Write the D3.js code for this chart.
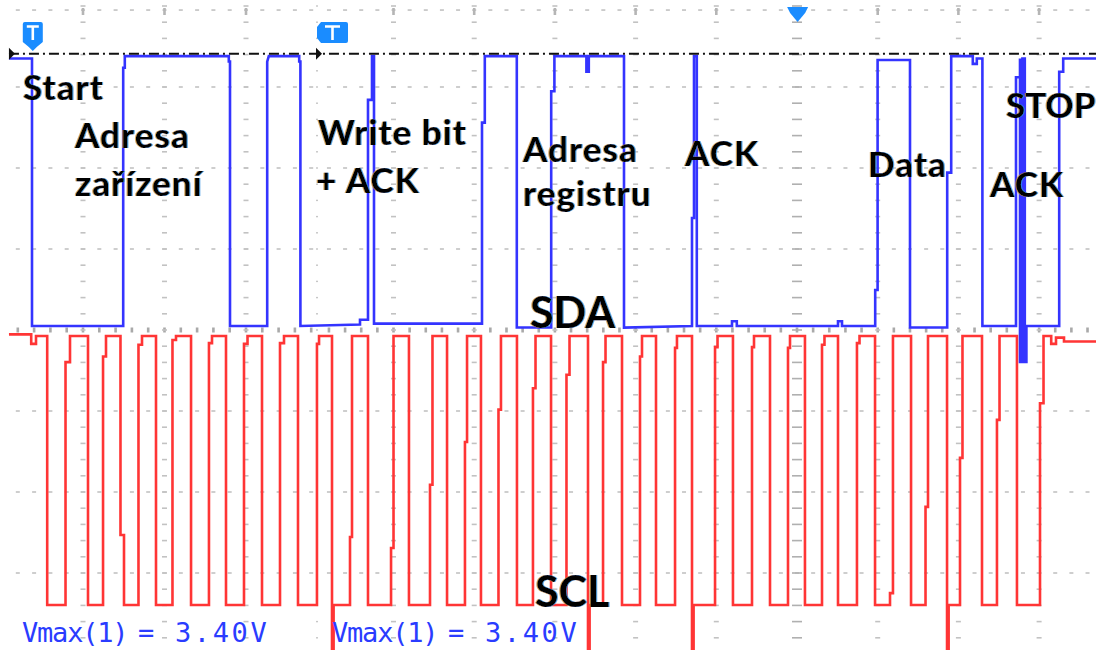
<!DOCTYPE html>
<html>
<head>
<meta charset="utf-8">
<script src="https://cdn.jsdelivr.net/npm/d3@7"></script>
<style>
  html, body { margin: 0; padding: 0; background: #fff; }
  svg { display: block; }
</style>
</head>
<body>
<div id="chart"></div>
<script>
// Constantes
const width = 1096;
const height = 650;

// Datos: SDA como vértices [tiempo µs, tensión V]
const sdaPoints = [
  [1.12, 3.42], [4.0, 3.42], [4.0, 0.0],
  [15.4, 0.0], [15.4, 3.3], [15.6, 3.3], [15.6, 3.45], [28.6, 3.45], [28.6, 3.38], [28.75, 3.38], [28.75, 0.0],
  [33.4, 0.0], [33.4, 3.38], [33.6, 3.45], [37.4, 3.45], [37.4, 3.38], [37.55, 3.38], [37.55, 0.0],
  [45.0, 0.02], [45.0, 0.08], [46.0, 0.08], [46.0, 2.89], [46.5, 2.89], [46.5, 3.45], [46.75, 3.45], [46.75, 0.03],
  [60.25, 0.03], [60.25, 2.6], [60.6, 2.6], [60.6, 3.45], [64.6, 3.45], [64.6, -0.02],
  [68.9, -0.02], [68.9, 3.0], [69.3, 3.0], [69.3, 3.45], [73.3, 3.45], [73.3, 3.25], [73.6, 3.25], [73.6, 3.45],
  [78.0, 3.45], [78.0, -0.02],
  [86.5, 0.0], [86.5, 1.38], [86.75, 1.38], [86.75, 3.45], [87.1, 3.45], [87.1, 0.0],
  [91.5, 0.0], [91.5, 0.06], [92.1, 0.06], [92.1, 0.0],
  [104.75, 0.0], [104.75, 0.06], [105.25, 0.06], [105.25, 0.0],
  [109.4, 0.0], [109.4, 0.46], [109.7, 0.46], [109.7, 3.4], [113.75, 3.4], [113.75, -0.02],
  [118.4, -0.02], [118.4, 1.96], [118.9, 1.96], [118.9, 3.45], [121.6, 3.45], [121.6, 3.35], [122.1, 3.35],
  [122.1, 3.42], [122.8, 3.42], [122.8, 0.0],
  [127.0, 0.0], [127.0, 3.18], [127.5, 3.18], [127.5, 3.42], [127.5, -0.46], [127.8, -0.46], [127.8, 3.42],
  [128.1, 3.42], [128.1, -0.46], [128.3, -0.46], [128.3, 0.0],
  [132.4, 0.0], [132.4, 3.25], [132.9, 3.25], [132.9, 3.42], [137, 3.42],
];

// Datos: SCL en reposo al principio [µs, V]
const sclStart = [[1.12, 3.42], [3.9, 3.42], [3.9, 3.3], [4.5, 3.3], [4.5, 3.4], [5.9, 3.4], [5.9, 0]];

// Pulsos SCL: [subida µs, escalón V, cima µs, bajada µs, mínimo V, escalón bajada V, fin escalón µs]
const sclPulses = [
  [8.19, 3.07, 8.75, 11.0, 0],
  [12.88, 3.14, 13.25, 15.06, 0, 0.885, 15.5],
  [17.31, 3.29, 17.75, 19.5, 0],
  [21.56, 3.35, 22.0, 23.88, 0],
  [26.12, 3.31, 26.5, 28.25, 0],
  [30.5, 3.3, 30.94, 32.75, 0],
  [35.0, 3.31, 35.5, 37.25, 0],
  [39.62, 3.3, 39.88, 41.5, -0.57],
  [43.75, 0.86, 44.0, 46.0, 0],
  [48.88, 0.72, 49.19, 51.12, 0],
  [53.75, 1.52, 54.06, 55.88, 0],
  [58.12, 2.06, 58.38, 60.12, 0],
  [62.31, 2.47, 62.62, 64.62, 0],
  [66.62, 2.74, 66.94, 68.88, 0],
  [70.81, 2.91, 71.19, 73.5, -0.57],
  [75.38, 3.07, 75.69, 77.75, 0],
  [80.0, 3.14, 80.25, 82.0, 0],
  [84.38, 3.25, 84.62, 86.5, -0.57],
  [89.38, 3.26, 89.69, 91.62, 0],
  [94.0, 3.26, 94.25, 96.25, 0],
  [98.5, 3.25, 98.75, 100.62, 0],
  [102.75, 3.29, 103.06, 104.75, 0],
  [107.12, 3.31, 107.44, 109.38, 0],
  [111.25, 0.15, 111.62, 113.88, 0],
  [115.69, 1.24, 116.0, 118.38, -0.57],
  [120.0, 1.86, 120.31, 122.75, 0],
  [124.62, 2.34, 124.94, 127.12, 0],
];

// SCL al final (condición STOP) [µs, V]
const sclTail = [
  [130.0, 0], [130.0, 2.55], [130.44, 2.55], [130.44, 3.4], [131.4, 3.4], [131.4, 3.3],
  [132.0, 3.3], [132.0, 3.38], [133.0, 3.38], [133.0, 3.33], [137, 3.33],
];
const sclHigh = 3.4;

// Marcadores de disparo (µs) y nivel de disparo (V, canal SDA)
const triggerTimes = [4.1, 41.5];
const centerTime = 99.7;
const triggerLevel = 3.48;

// Textos
const annotationTexts = ["Start", "Adresa", "zařízení", "Write bit", "+ ACK", "Adresa", "registru", "ACK", "Data", "ACK", "STOP"];
const channelTexts = ["SDA", "SCL"];
const measureParts = ["Vmax(1)", "=", "3.40V"];

// SVG
const svg = d3.select("div#chart").append("svg").attr("width", width).attr("height", height);
const defs = svg.append("defs");
const ct = defs.append("filter").attr("id", "cleartype").attr("x", "-5%").attr("width", "110%");
ct.append("feOffset").attr("in", "SourceAlpha").attr("dx", -1).attr("result", "l");
ct.append("feFlood").attr("flood-color", "#c98a2e").attr("flood-opacity", 0.75);
ct.append("feComposite").attr("in2", "l").attr("operator", "in").attr("result", "lc");
ct.append("feOffset").attr("in", "SourceAlpha").attr("dx", 1).attr("result", "r");
ct.append("feFlood").attr("flood-color", "#2f8fe0").attr("flood-opacity", 0.75);
ct.append("feComposite").attr("in2", "r").attr("operator", "in").attr("result", "rc");
const merge = ct.append("feMerge");
merge.append("feMergeNode").attr("in", "lc");
merge.append("feMergeNode").attr("in", "rc");
merge.append("feMergeNode").attr("in", "SourceGraphic");

const gridGroup = svg.append("g");
const traceGroup = svg.append("g");
const markerGroup = svg.append("g");
const textGroup = svg.append("g");

// Escalas
const x = d3.scaleLinear().domain([0, 137]).range([0, width]);
const ySda = d3.scaleLinear().domain([0, 3.4]).range([326, 60]);
const yScl = d3.scaleLinear().domain([0, 3.4]).range([605, 336]);
const yDiv = d3.scaleLinear().domain([0, 8]).range([6, 654]);

// Retícula: dos capturas unidas (A a la izquierda, B a la derecha)
const captures = [
  { div: d3.scaleLinear().domain([0, 1]).range([83, 164.5]), from: -0.98, to: 2.9, cols: [0, 1, 2], center: null, x0: 0, x1: 317 },
  { div: d3.scaleLinear().domain([0, 1]).range([797, 877.7]), from: -5.95, to: 3.7, cols: [-5, -4, -3, -2, -1, 0, 1, 2, 3], center: 0, x0: 317, x1: width },
];
const rows = [0.05, 1, 2, 3, 4, 5, 6, 7];
const minorY = d3.range(0, 8.01, 0.2);

captures.forEach((c) => {
  const minorX = d3.range(Math.ceil(c.from * 5) / 5, c.to, 0.2).filter((m) => c.div(m) > c.x0 + 2 && c.div(m) < c.x1 - 1);
  rows.forEach((r) => {
    gridGroup.append("g").selectAll("rect").data(minorX).join("rect")
      .attr("x", (m) => c.div(m) - (r === 4 ? 1.3 : 2))
      .attr("y", yDiv(r) - (r === 4 ? 2.5 : 0.8))
      .attr("width", r === 4 ? 2.6 : 4)
      .attr("height", r === 4 ? 5 : 1.6)
      .attr("fill", r === 4 ? "#a9a9a9" : "#c2c2c2");
  });
  c.cols.forEach((col) => {
    const w = col === c.center ? 10 : 5;
    gridGroup.append("g").selectAll("rect").data(minorY).join("rect")
      .attr("x", c.div(col) - w / 2)
      .attr("y", (m) => yDiv(m) - 0.8)
      .attr("width", w)
      .attr("height", 1.6)
      .attr("fill", col === c.center ? "#b0b0b0" : "#c2c2c2");
    gridGroup.append("rect")
      .attr("x", c.div(col) - 1.3).attr("y", 8).attr("width", 2.6).attr("height", 7)
      .attr("fill", "#b5b5b5");
  });
});
// Columna del empalme
gridGroup.append("g").selectAll("rect").data(minorY).join("rect")
  .attr("x", 316).attr("y", (m) => yDiv(m) - 0.7).attr("width", 2).attr("height", 1.4)
  .attr("fill", "#c6c6c6");

// Trazas
const sclPoints = [...sclStart];
sclPulses.forEach(([rise, stepV, top, fall, lowV, fStepV, fStepT]) => {
  sclPoints.push([rise, 0], [rise, stepV], [top, stepV], [top, sclHigh], [fall, sclHigh]);
  if (fStepV !== undefined) sclPoints.push([fall, fStepV], [fStepT, fStepV], [fStepT, 0]);
  else if (lowV < 0) sclPoints.push([fall, lowV], [fall + 0.2, lowV], [fall + 0.2, 0]);
  else sclPoints.push([fall, 0]);
});
sclPoints.push(...sclTail);

const traceLine = (yScale) => d3.line().x((d) => x(d[0])).y((d) => yScale(d[1]));

traceGroup.append("path")
  .attr("d", traceLine(yScl)(sclPoints))
  .attr("fill", "none").attr("stroke", "#ff3535").attr("stroke-width", 2.6)
  .attr("stroke-linejoin", "miter");

traceGroup.append("path")
  .attr("d", traceLine(ySda)(sdaPoints))
  .attr("fill", "none").attr("stroke", "#3434ff").attr("stroke-width", 2.6)
  .attr("stroke-linejoin", "miter");

// Línea de nivel de disparo
const yTrig = ySda(triggerLevel);
markerGroup.append("line")
  .attr("x1", x(1.12)).attr("x2", width).attr("y1", yTrig).attr("y2", yTrig)
  .attr("stroke", "#111").attr("stroke-width", 2).attr("stroke-dasharray", "10,4,2,4");
[x(1.12), 316].forEach((px) => {
  markerGroup.append("path")
    .attr("d", `M${px},${yTrig - 6}L${px + 6},${yTrig}L${px},${yTrig + 6}Z`)
    .attr("fill", "#111");
});

// Marcadores T
const markerBlue = "#1a8cff";
const t1 = x(triggerTimes[0]);
markerGroup.append("path")
  .attr("d", `M${t1 - 10},24q0,-2 2,-2h16q2,0 2,2v18l-6,5l-4,4l-4,-4l-6,-5z`)
  .attr("fill", markerBlue);
markerGroup.append("path")
  .attr("d", `M${t1 - 6},26.5h12M${t1},26.5v13.5`)
  .attr("stroke", "#fff").attr("stroke-width", 2.6).attr("fill", "none");

const t2 = x(triggerTimes[1]);
markerGroup.append("path")
  .attr("d", `M${t2 - 11},22h25q2,0 2,2v17q0,2 -2,2h-25l-4,-5v-11z`)
  .attr("fill", markerBlue);
markerGroup.append("path")
  .attr("d", `M${t2 - 7},26.5h15M${t2 + 0.5},26.5v13.5`)
  .attr("stroke", "#fff").attr("stroke-width", 2.6).attr("fill", "none");

const tc = x(centerTime);
markerGroup.append("path")
  .attr("d", `M${tc - 10.5},7h21l-3,6l-7.5,9l-7.5,-9z`)
  .attr("fill", markerBlue);

// Anotaciones
const annotationPos = [
  [23, 100], [75, 148], [75, 196], [318, 145], [316, 193], [523, 162],
  [523, 206], [685, 166], [868, 177], [990, 197], [1006, 118],
];
textGroup.selectAll("text.note").data(annotationTexts).join("text")
  .attr("class", "note")
  .attr("x", (d, i) => annotationPos[i][0])
  .attr("y", (d, i) => annotationPos[i][1])
  .attr("font-family", "Lato, 'Open Sans', sans-serif")
  .attr("font-weight", "bold")
  .attr("font-size", 35)
  .attr("letter-spacing", (d) => (d === "STOP" ? 0 : 1.1))
  .attr("fill", "#000")
  .attr("filter", "url(#cleartype)")
  .text((d) => d);

const channelPos = [[530, 328], [535, 607]];
textGroup.selectAll("text.channel").data(channelTexts).join("text")
  .attr("class", "channel")
  .attr("x", (d, i) => channelPos[i][0])
  .attr("y", (d, i) => channelPos[i][1])
  .attr("font-family", "Lato, 'Open Sans', sans-serif")
  .attr("font-weight", "bold")
  .attr("font-size", 43)
  .attr("fill", "#000")
  .attr("filter", "url(#cleartype)")
  .text((d) => d);

// Medidas Vmax (una por captura), un solo texto con tramos
const partOffsets = [0, 116, 153];
const partSpacing = [-1.2, 0, 2.6];
[22, 332].forEach((x0) => {
  textGroup.append("text")
    .attr("y", 642)
    .attr("font-family", "'DejaVu Sans Mono', monospace")
    .attr("font-size", 27)
    .attr("fill", "#2a3cff")
    .selectAll("tspan").data(measureParts).join("tspan")
    .attr("x", (d, i) => x0 + partOffsets[i])
    .attr("letter-spacing", (d, i) => partSpacing[i])
    .text((d) => d);
});
</script>
</body>
</html>
